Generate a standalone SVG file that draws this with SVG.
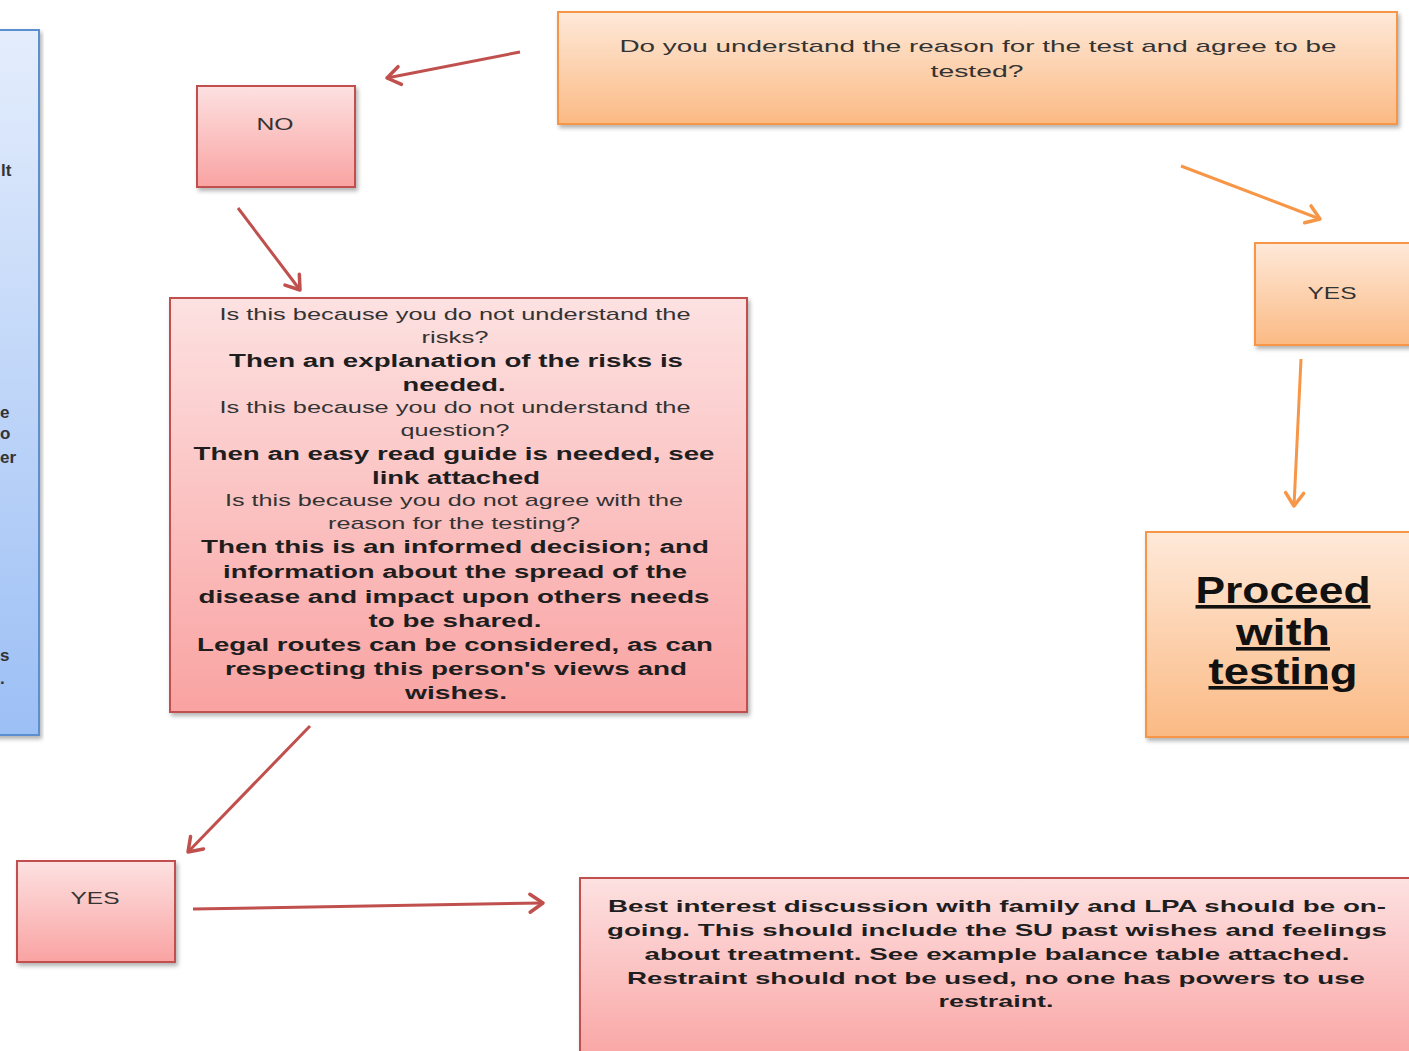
<svg xmlns="http://www.w3.org/2000/svg" width="1409" height="1051" viewBox="0 0 1409 1051">
<defs>
<linearGradient id="gRed" x1="0" y1="0" x2="0" y2="1"><stop offset="0" stop-color="#fde1e1"/><stop offset="1" stop-color="#f9a3a2"/></linearGradient>
<linearGradient id="gOrange" x1="0" y1="0" x2="0" y2="1"><stop offset="0" stop-color="#fee9d9"/><stop offset="1" stop-color="#fbba84"/></linearGradient>
<linearGradient id="gBlue" x1="0" y1="0" x2="0" y2="1"><stop offset="0" stop-color="#e4edfc"/><stop offset="1" stop-color="#9cbff5"/></linearGradient>
<filter id="sh" x="-5%" y="-5%" width="115%" height="120%"><feDropShadow dx="2" dy="3" stdDeviation="2" flood-color="#000" flood-opacity="0.3"/></filter>
<marker id="aRed" markerUnits="userSpaceOnUse" markerWidth="24" markerHeight="24" refX="16" refY="12" orient="auto"><path d="M3,3 L16,12 L3,21" fill="none" stroke="#c0504d" stroke-width="3.5" stroke-linecap="round" stroke-linejoin="round"/></marker>
<marker id="aOrange" markerUnits="userSpaceOnUse" markerWidth="24" markerHeight="24" refX="16" refY="12" orient="auto"><path d="M3,3 L16,12 L3,21" fill="none" stroke="#f79646" stroke-width="3.5" stroke-linecap="round" stroke-linejoin="round"/></marker>
</defs>
<style>
.red{fill:url(#gRed);stroke:#c0504d;stroke-width:2;filter:url(#sh)}
.orange{fill:url(#gOrange);stroke:#f79646;stroke-width:2;filter:url(#sh)}
.blue{fill:url(#gBlue);stroke:#5b8fd0;stroke-width:2;filter:url(#sh)}
text{font-family:"Liberation Sans",Arial,sans-serif;fill:#1e1e1e;text-anchor:middle}
.r{font-size:17px;fill:#333}
.b{font-size:18px;font-weight:bold}
.bb{font-size:17px;font-weight:bold}
.big{font-size:36px;font-weight:bold;text-decoration:underline;fill:#111}
.lr{stroke:#c0504d;stroke-width:3;fill:none;marker-end:url(#aRed)}
.lo{stroke:#f79646;stroke-width:3;fill:none;marker-end:url(#aOrange)}
.frag{font-size:17px;font-weight:bold;text-anchor:start;fill:#333}
</style>

<g id="left-blue">
<rect class="blue" x="-10" y="30" width="49" height="705"/>
<text class="frag" x="1" y="176">lt</text>
<text class="frag" x="0" y="418">e</text>
<text class="frag" x="0" y="439">o</text>
<text class="frag" x="0" y="463">er</text>
<text class="frag" x="0" y="661">s</text>
<text class="frag" x="0" y="684">.</text>
</g>

<g id="question">
<rect class="orange" x="558" y="12" width="839" height="112"/>
<text class="r" x="978" y="52" textLength="717" lengthAdjust="spacingAndGlyphs">Do you understand the reason for the test and agree to be</text>
<text class="r" x="977" y="77" textLength="93" lengthAdjust="spacingAndGlyphs">tested?</text>
</g>

<g id="no">
<rect class="red" x="197" y="86" width="158" height="101"/>
<text class="r" x="275" y="130" textLength="37" lengthAdjust="spacingAndGlyphs">NO</text>
</g>

<g id="reasons">
<rect class="red" x="170" y="298" width="577" height="414"/>
<text class="r" x="455" y="320" textLength="471" lengthAdjust="spacingAndGlyphs">Is this because you do not understand the</text>
<text class="r" x="455" y="343" textLength="67" lengthAdjust="spacingAndGlyphs">risks?</text>
<text class="b" x="456" y="367" textLength="454" lengthAdjust="spacingAndGlyphs">Then an explanation of the risks is</text>
<text class="b" x="454" y="391" textLength="103" lengthAdjust="spacingAndGlyphs">needed.</text>
<text class="r" x="455" y="413" textLength="471" lengthAdjust="spacingAndGlyphs">Is this because you do not understand the</text>
<text class="r" x="455" y="436" textLength="109" lengthAdjust="spacingAndGlyphs">question?</text>
<text class="b" x="454" y="460" textLength="521" lengthAdjust="spacingAndGlyphs">Then an easy read guide is needed, see</text>
<text class="b" x="456" y="484" textLength="168" lengthAdjust="spacingAndGlyphs">link attached</text>
<text class="r" x="454" y="506" textLength="458" lengthAdjust="spacingAndGlyphs">Is this because you do not agree with the</text>
<text class="r" x="454" y="529" textLength="252" lengthAdjust="spacingAndGlyphs">reason for the testing?</text>
<text class="b" x="455" y="553" textLength="508" lengthAdjust="spacingAndGlyphs">Then this is an informed decision; and</text>
<text class="b" x="455" y="578" textLength="464" lengthAdjust="spacingAndGlyphs">information about the spread of the</text>
<text class="b" x="454" y="603" textLength="511" lengthAdjust="spacingAndGlyphs">disease and impact upon others needs</text>
<text class="b" x="455" y="627" textLength="173" lengthAdjust="spacingAndGlyphs">to be shared.</text>
<text class="b" x="455" y="651" textLength="516" lengthAdjust="spacingAndGlyphs">Legal routes can be considered, as can</text>
<text class="b" x="456" y="675" textLength="462" lengthAdjust="spacingAndGlyphs">respecting this person's views and</text>
<text class="b" x="456" y="699" textLength="102" lengthAdjust="spacingAndGlyphs">wishes.</text>
</g>

<g id="yes-left">
<rect class="red" x="17" y="861" width="158" height="101"/>
<text class="r" x="95" y="904" textLength="49" lengthAdjust="spacingAndGlyphs">YES</text>
</g>

<g id="best-interest">
<rect class="red" x="580" y="878" width="850" height="190"/>
<text class="bb" x="997" y="912" textLength="778" lengthAdjust="spacingAndGlyphs">Best interest discussion with family and LPA should be on-</text>
<text class="bb" x="997" y="936" textLength="780" lengthAdjust="spacingAndGlyphs">going.  This should include the  SU past wishes and feelings</text>
<text class="bb" x="997" y="960" textLength="705" lengthAdjust="spacingAndGlyphs">about treatment.  See example balance table attached.</text>
<text class="bb" x="996" y="984" textLength="738" lengthAdjust="spacingAndGlyphs">Restraint should not be used, no one has powers to use</text>
<text class="bb" x="996" y="1007" textLength="115" lengthAdjust="spacingAndGlyphs">restraint.</text>
</g>

<g id="yes-right">
<rect class="orange" x="1255" y="243" width="170" height="102"/>
<text class="r" x="1332" y="299" textLength="49" lengthAdjust="spacingAndGlyphs">YES</text>
</g>

<g id="proceed">
<rect class="orange" x="1146" y="532" width="280" height="205"/>
<text class="big" x="1283" y="603" textLength="175" lengthAdjust="spacingAndGlyphs">Proceed</text>
<text class="big" x="1283" y="645" textLength="94" lengthAdjust="spacingAndGlyphs">with</text>
<text class="big" x="1283" y="684" textLength="149" lengthAdjust="spacingAndGlyphs">testing</text>
</g>

<g id="connectors">
<line class="lr" x1="520" y1="52" x2="387" y2="78"/>
<line class="lr" x1="238" y1="208" x2="300" y2="290"/>
<line class="lr" x1="310" y1="726" x2="188" y2="852"/>
<line class="lr" x1="193" y1="909" x2="543" y2="903"/>
<line class="lo" x1="1181" y1="166" x2="1320" y2="219"/>
<line class="lo" x1="1301" y1="359" x2="1294" y2="506"/>
</g>
</svg>
